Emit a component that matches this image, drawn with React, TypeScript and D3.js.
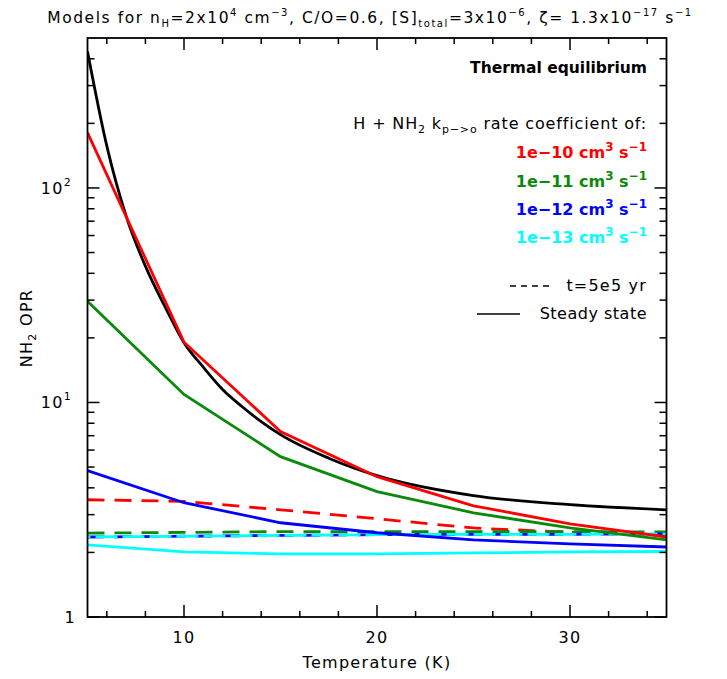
import React from "react";
import * as d3 from "d3";

const temps = [5, 10, 15, 20, 25, 30, 35];
const steadyTemps = [5, 6, 7, 8, 9, 10, 11, 12, 13, 14, 15, 17.5, 20, 25, 30, 35];
const thermalSteady = [432, 157, 74, 43.2, 28.1, 19.0, 14.6, 11.5, 9.58, 8.15, 7.08, 5.5, 4.56, 3.68, 3.34, 3.16];

const ss1e10 = [181, 19.1, 7.32, 4.51, 3.3, 2.72, 2.36];
const ss1e11 = [29.6, 10.9, 5.59, 3.84, 3.06, 2.6, 2.29];
const ss1e12 = [4.81, 3.41, 2.75, 2.47, 2.29, 2.19, 2.12];
const ss1e13 = [2.17, 2.01, 1.97, 1.97, 1.99, 2.01, 2.02];

const t5e5_1e10 = [3.52, 3.46, 3.16, 2.87, 2.6, 2.48, 2.42];
const t5e5_1e11 = [2.46, 2.48, 2.5, 2.5, 2.5, 2.5, 2.49];
const t5e5_1e12 = [2.36, 2.38, 2.4, 2.42, 2.43, 2.43, 2.44];
const t5e5_1e13 = [2.36, 2.38, 2.4, 2.42, 2.43, 2.43, 2.44];

const xMajor = [10, 20, 30];
const xMinor = [6, 8, 12, 14, 16, 18, 22, 24, 26, 28, 32, 34];
const yMajor = [1, 10, 100];
const yMinor = [2, 3, 4, 5, 6, 7, 8, 9, 20, 30, 40, 50, 60, 70, 80, 90, 200, 300, 400];

const RED = "#ff0000";
const GREEN = "#0a8a0a";
const BLUE = "#0000ff";
const CYAN = "#00ffff";

const FONT = "'DejaVu Sans', Verdana, sans-serif";

export default function App() {
  const L = 87.5, R = 666.5, T = 38, B = 617;
  const x = d3.scaleLinear().domain([5, 35]).range([L, R]);
  const y = d3.scaleLog().domain([1, 500]).range([B, T]);
  const line = d3.line<[number, number]>().x(d => x(d[0])).y(d => y(d[1]));
  const smooth = d3.line<[number, number]>().x(d => x(d[0])).y(d => y(d[1])).curve(d3.curveMonotoneX);
  const mk = (ts: number[], vs: number[]) => ts.map((t, i) => [t, vs[i]] as [number, number]);

  const dash = "17 10";
  const ls = 1.3;
  return (
    <svg width={727} height={679} style={{ position: "absolute", left: 0, top: 0, background: "#fff" }} fontFamily={FONT}>
      <defs>
        <clipPath id="plot">
          <rect x={L} y={T} width={R - L} height={B - T} />
        </clipPath>
      </defs>
      {/* title */}
      <text x={370} y={23} fontSize={15.5} letterSpacing={1.55} textAnchor="middle" fill="#000">
        Models for n<tspan fontSize={10} dy={4}>H</tspan><tspan dy={-4}>=2x10</tspan>
        <tspan fontSize={10} dy={-7}>4</tspan><tspan dy={7}> cm</tspan>
        <tspan fontSize={10} dy={-7}>−3</tspan><tspan dy={7}>, C/O=0.6, [S]</tspan>
        <tspan fontSize={10} dy={4}>total</tspan><tspan dy={-4}>=3x10</tspan>
        <tspan fontSize={10} dy={-7}>−6</tspan><tspan dy={7}>, ζ= 1.3x10</tspan>
        <tspan fontSize={10} dy={-7}>−17</tspan><tspan dy={7}> s</tspan>
        <tspan fontSize={10} dy={-7}>−1</tspan>
      </text>

      {/* data */}
      <g clipPath="url(#plot)" fill="none" strokeWidth={2.8}>
        <path d={line(mk(temps, t5e5_1e10)) ?? ""} stroke={RED} strokeDasharray={dash} />
        <path d={line(mk(temps, t5e5_1e11)) ?? ""} stroke={GREEN} strokeDasharray={dash} />
        <path d={line(mk(temps, t5e5_1e12)) ?? ""} stroke={BLUE} strokeDasharray={dash} />
        <path d={line(mk(temps, t5e5_1e13)) ?? ""} stroke={CYAN} strokeDasharray="22 5" strokeDashoffset={-8} />
        <path d={line(mk(temps, ss1e13)) ?? ""} stroke={CYAN} />
        <path d={line(mk(temps, ss1e12)) ?? ""} stroke={BLUE} />
        <path d={line(mk(temps, ss1e11)) ?? ""} stroke={GREEN} />
        <path d={smooth(mk(steadyTemps, thermalSteady)) ?? ""} stroke="#000" />
        <path d={line(mk(temps, ss1e10)) ?? ""} stroke={RED} />
      </g>

      {/* frame */}
      <rect x={L} y={T} width={R - L} height={B - T} fill="none" stroke="#000" strokeWidth={1.8} />
      <g stroke="#000" strokeWidth={1.5}>
        {xMajor.map(v => (
          <g key={"xM" + v}>
            <line x1={x(v)} x2={x(v)} y1={B} y2={B - 12} />
            <line x1={x(v)} x2={x(v)} y1={T} y2={T + 12} />
          </g>
        ))}
        {xMinor.map(v => (
          <g key={"xm" + v}>
            <line x1={x(v)} x2={x(v)} y1={B} y2={B - 6} />
            <line x1={x(v)} x2={x(v)} y1={T} y2={T + 6} />
          </g>
        ))}
        {yMajor.map(v => (
          <g key={"yM" + v}>
            <line x1={L} x2={L + 12} y1={y(v)} y2={y(v)} />
            <line x1={R} x2={R - 12} y1={y(v)} y2={y(v)} />
          </g>
        ))}
        {yMinor.map(v => (
          <g key={"ym" + v}>
            <line x1={L} x2={L + 7} y1={y(v)} y2={y(v)} />
            <line x1={R} x2={R - 7} y1={y(v)} y2={y(v)} />
          </g>
        ))}
      </g>

      {/* tick labels */}
      <g fontSize={16} fill="#000" letterSpacing={ls}>
        {xMajor.map(v => (
          <text key={"xl" + v} x={x(v)} y={643} textAnchor="middle">{v}</text>
        ))}
        <text x={76} y={y(1) + 6} textAnchor="end">1</text>
        <text x={72} y={y(10) + 6} textAnchor="end">10<tspan fontSize={11} dy={-8}>1</tspan></text>
        <text x={72} y={y(100) + 6} textAnchor="end">10<tspan fontSize={11} dy={-8}>2</tspan></text>
      </g>

      {/* axis titles */}
      <text x={377} y={668} fontSize={16} letterSpacing={ls} textAnchor="middle">Temperature (K)</text>
      <text transform="translate(32,328) rotate(-90)" fontSize={16} letterSpacing={ls} textAnchor="middle">
        NH<tspan fontSize={11} dy={4}>2</tspan><tspan dy={-4}> OPR</tspan>
      </text>

      {/* legend */}
      <g fontSize={16} textAnchor="end">
        <text x={647} y={73} fontSize={15.5} fontWeight="bold">Thermal equilibrium</text>
        <text x={647} y={129} letterSpacing={0.85}>
          H + NH<tspan fontSize={11} dy={4}>2</tspan><tspan dy={-4}> k</tspan>
          <tspan fontSize={11} dy={4}>p−&gt;o</tspan><tspan dy={-4}> rate coefficient of:</tspan>
        </text>
        {[["1e−10", RED, 158], ["1e−11", GREEN, 187], ["1e−12", BLUE, 215], ["1e−13", CYAN, 243]].map(([lab, col, yy]) => (
          <text key={lab as string} x={647} y={yy as number} fill={col as string} fontWeight="bold" letterSpacing={0}>
            {lab} cm<tspan fontSize={12} dy={-7}>3</tspan><tspan dy={7}> s</tspan><tspan fontSize={12} dy={-7}>−1</tspan>
          </text>
        ))}
        <text x={647} y={291} letterSpacing={1.2}>t=5e5 yr</text>
        <text x={647} y={319} letterSpacing={0.5}>Steady state</text>
      </g>
      <line x1={510} x2={553} y1={286} y2={286} stroke="#000" strokeWidth={1.5} strokeDasharray="6 5" />
      <line x1={477} x2={520} y1={314} y2={314} stroke="#000" strokeWidth={1.5} />
    </svg>
  );
}
